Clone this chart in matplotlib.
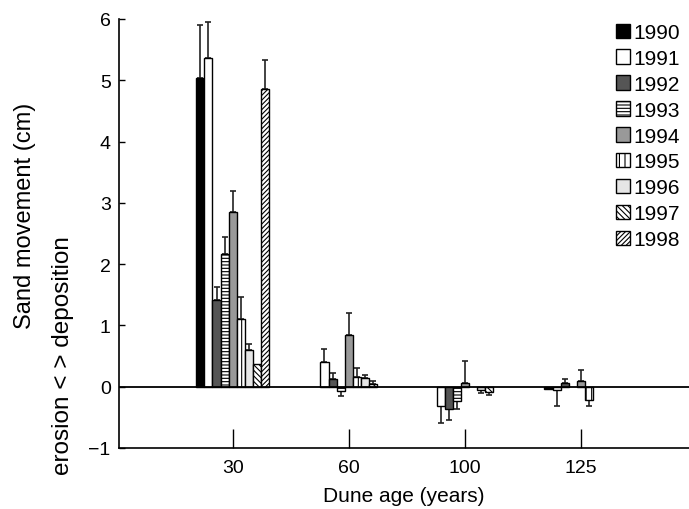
import matplotlib
matplotlib.use("Agg")
import matplotlib.pyplot as plt
import numpy as np

plt.rcParams['font.family'] = ['Liberation Sans', 'DejaVu Sans']
plt.rcParams['hatch.linewidth'] = 0.8

ages = ['30', '60', '100', '125']
years = ['1990', '1991', '1992', '1993', '1994', '1995', '1996', '1997', '1998']

nan = np.nan
# mean sand movement (cm) per year, one value per dune age
movement = [
    [5.04, nan, nan, -0.04],
    [5.37, 0.41, -0.32, -0.05],
    [1.41, 0.13, -0.36, 0.06],
    [2.16, -0.07, -0.23, nan],
    [2.85, 0.84, 0.06, 0.09],
    [1.10, 0.16, nan, -0.22],
    [0.60, 0.14, -0.06, nan],
    [0.37, 0.05, -0.08, nan],
    [4.85, nan, nan, nan],
]
# error bar length (drawn away from zero only)
errors = [
    [0.86, nan, nan, 0.0],
    [0.58, 0.21, 0.27, 0.27],
    [0.21, 0.10, 0.19, 0.06],
    [0.28, 0.08, 0.14, nan],
    [0.34, 0.36, 0.36, 0.19],
    [0.36, 0.15, nan, 0.10],
    [0.09, 0.05, 0.04, nan],
    [0.0, 0.04, 0.05, nan],
    [0.48, nan, nan, nan],
]

faces = ['black', 'white', '#555555', 'white', '#999999', 'white', '#e6e6e6', 'white', 'white']
hatches = [None, None, None, '-----', None, '|||', None, '\\\\\\\\\\\\', '///////']

fig = plt.figure(figsize=(6.89, 5.10), dpi=100)
ax = fig.add_axes([119 / 689, 61 / 510, 570 / 689, 429 / 510])

x = np.arange(len(ages))
width = 0.07
for i, yr in enumerate(years):
    vals = np.array(movement[i])
    err = np.array(errors[i])
    pos = x + (i - 4) * width
    ok = ~np.isnan(vals)
    ax.bar(pos[ok], vals[ok], width, color=faces[i], edgecolor='black',
           linewidth=1.0, hatch=hatches[i], label=yr, zorder=2)
    e = np.nan_to_num(err)
    lower = np.where(vals < 0, e, 0)
    upper = np.where(vals >= 0, e, 0)
    has = ok & (e > 0)
    ax.errorbar(pos[has], vals[has], yerr=[lower[has], upper[has]], fmt='none',
                ecolor='#222222', elinewidth=1.2, capsize=2.5, capthick=1.2, zorder=1)

ax.axhline(0, color='black', linewidth=1.3, zorder=3)

ax.set_xlim(-0.98, 3.93)
ax.set_ylim(-1, 6)
ax.set_xticks(x)
ax.set_xticklabels(ages)
ax.set_yticks(range(-1, 7))
ax.set_yticklabels(['\u22121', '0', '1', '2', '3', '4', '5', '6'])
ax.tick_params(axis='x', direction='in', length=14, width=1, labelsize=14, pad=8)
ax.tick_params(axis='y', direction='in', length=4, width=1, labelsize=14, pad=6)
for s in ['top', 'right']:
    ax.spines[s].set_visible(False)
for s in ['left', 'bottom']:
    ax.spines[s].set_linewidth(1.2)

ax.set_xlabel('Dune age (years)', fontsize=15, labelpad=7)
fig.text(25 / 689, 1 - 216 / 510, 'Sand movement (cm)', rotation=90,
         ha='center', va='center', fontsize=17)
fig.text(63 / 689, 1 - 356 / 510, 'erosion < > deposition', rotation=90,
         ha='center', va='center', fontsize=17.5)

ax.legend(loc='upper right', bbox_to_anchor=(0.995, 1.005), frameon=False, fontsize=15,
          handlelength=0.7, handleheight=0.7, handletextpad=0.15,
          labelspacing=0.33, borderpad=0.0, borderaxespad=0.3)

fig.savefig('out.png', dpi=100)
